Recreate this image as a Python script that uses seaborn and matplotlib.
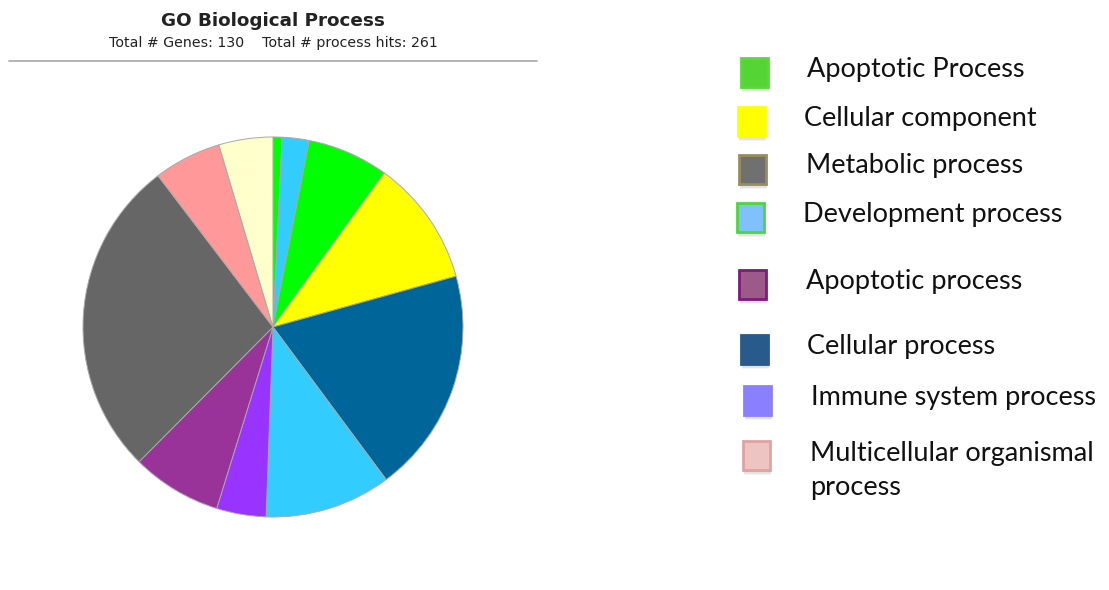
import matplotlib
matplotlib.use("Agg")
import matplotlib.pyplot as plt
from matplotlib.patches import Rectangle
import seaborn as sns

# GO biological process hits per slice, clockwise from 12 o'clock
slice_hits = [2, 6, 18, 28, 50, 28, 11, 20, 71, 15, 12]
slice_colors = ["#00ff00", "#33ccff", "#00ff00", "#ffff00", "#006699",
                "#33ccff", "#9933ff", "#993399", "#666666", "#ff9999", "#ffffcc"]

title_text = "GO Biological Process"
subtitle_text = "Total # Genes: 130    Total # process hits: 261"

# legend entries
legend_labels = ["Apoptotic Process", "Cellular component", "Metabolic process",
                 "Development process", "Apoptotic process", "Cellular process",
                 "Immune system process", "Multicellular organismal\nprocess"]
legend_fill = ["#55d535", "#ffff00", "#707070", "#80c0ff",
               "#9b5a87", "#285a8c", "#8a7fff", "#edc4c2"]
legend_edge = ["#5bd83c", "#ffff00", "#978d5e", "#4fd63a",
               "#7d1a7d", "#285a8c", "#8a7fff", "#dfa3a0"]

sns.set_theme(style="white")
plt.rcParams["font.family"] = ["DejaVu Sans"]

W, H = 1109, 590
fig = plt.figure(figsize=(W / 100, H / 100), dpi=100)
fig.patch.set_facecolor("white")


def fx(x):
    return x / W


def fy(y):
    return 1 - y / H


# pie: centre (273, 327) px, radius 190 px
cx, cy, r = 273, 327, 190
ax = fig.add_axes([fx(cx - r), fy(cy + r), 2 * r / W, 2 * r / H])
palette = sns.color_palette(slice_colors)
ax.pie(slice_hits, colors=palette, startangle=90, counterclock=False,
       wedgeprops=dict(edgecolor="#a8a8a8", linewidth=0.7))
ax.set_xlim(-1, 1)
ax.set_ylim(-1, 1)
ax.set_aspect("equal")
ax.axis("off")

# header
fig.text(fx(273), fy(26), title_text, ha="center", va="baseline",
         fontsize=13.2, fontweight="bold", color="#222222")
fig.text(fx(273), fy(47), subtitle_text, ha="center", va="baseline",
         fontsize=10.2, color="#222222")
fig.add_artist(plt.Line2D([fx(9), fx(537)], [fy(61), fy(61)],
                          color="#b0b0b0", linewidth=1.3,
                          transform=fig.transFigure))

# legend squares (x, y top-left in px) and label anchors (x, baseline in px)
square_xy = [(741, 58), (738, 107), (739, 155), (737, 203),
             (739, 270), (741, 335), (744, 386), (743, 441)]
label_xy = [(807, 77), (804, 126), (806, 173), (803, 222),
            (806, 289), (807, 354), (811, 405), (810, 461)]
line_step = 34
sq_w, sq_h = 27, 29

for (sx, sy), fc, ec in zip(square_xy, legend_fill, legend_edge):
    # soft drop shadow
    for k, a in enumerate([0.10, 0.07, 0.04]):
        off = 2 + k * 1.5
        fig.add_artist(Rectangle((fx(sx + 1), fy(sy + sq_h + off)),
                                 sq_w / W, sq_h / H, transform=fig.transFigure,
                                 facecolor="black", edgecolor="none", alpha=a))
    fig.add_artist(Rectangle((fx(sx), fy(sy + sq_h)), sq_w / W, sq_h / H,
                             transform=fig.transFigure, facecolor=fc,
                             edgecolor=ec, linewidth=2))

for (lx, ly), lab in zip(label_xy, legend_labels):
    for i, line in enumerate(lab.split("\n")):
        fig.text(fx(lx), fy(ly + i * line_step), line, ha="left",
                 va="baseline", fontsize=19.5,
                 family=["Lato", "DejaVu Sans"], color="#111111")

fig.savefig("out.png", dpi=100, facecolor="white")
